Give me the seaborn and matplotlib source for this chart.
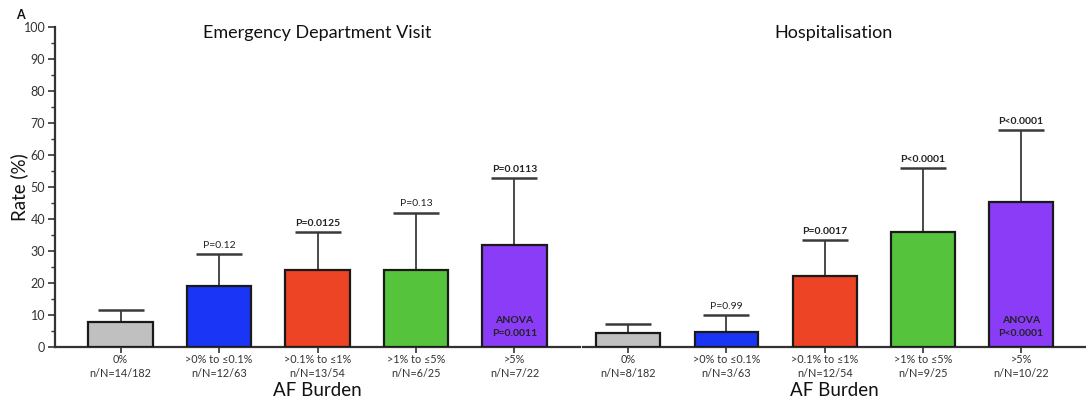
import numpy as np
import pandas as pd
import matplotlib
matplotlib.use("Agg")
import matplotlib.pyplot as plt
from matplotlib.ticker import MultipleLocator
import seaborn as sns

sns.set_theme(style="white")
plt.rcParams["font.family"] = ["Lato", "DejaVu Sans"]

# AF burden groups
groups = ["0%", ">0% to \u22640.1%", ">0.1% to \u22641%", ">1% to \u22645%", ">5%"]
colors = ["#c0c0c0", "#1a35f5", "#ec4424", "#55c43c", "#8a3cf6"]

# Emergency department visits
ed_n = [14, 12, 13, 6, 7]
ed_N = [182, 63, 54, 25, 22]
ed_upper = [11.6, 29.1, 36.0, 42.0, 52.9]
ed_p = ["", "P=0.12", "P=0.0125", "P=0.13", "P=0.0113"]
ed_p_bold = [False, False, True, False, True]
ed_anova = "ANOVA\nP=0.0011"

# Hospitalisation
ho_n = [8, 3, 12, 9, 10]
ho_N = [182, 63, 54, 25, 22]
ho_upper = [7.2, 9.9, 33.5, 56.0, 67.9]
ho_p = ["", "P=0.99", "P=0.0017", "P<0.0001", "P<0.0001"]
ho_p_bold = [False, False, True, True, True]
ho_anova = "ANOVA\nP<0.0001"

fig = plt.figure(figsize=(10.86, 4.03), dpi=100)
ax1 = fig.add_axes([55 / 1086, 1 - 347 / 403, 525 / 1086, 320 / 403])
ax2 = fig.add_axes([583 / 1086, 1 - 347 / 403, 502 / 1086, 320 / 403])


def panel(ax, n, N, upper, plabels, pbold, anova, title, xlim, show_y):
    rate = [100 * a / b for a, b in zip(n, N)]
    df = pd.DataFrame({"group": groups, "rate": rate})
    sns.barplot(data=df, x="group", y="rate", hue="group", palette=colors,
                saturation=1, legend=False, width=0.65, edgecolor="#1a1a1a",
                linewidth=1.6, ax=ax, zorder=3)
    x = np.arange(len(groups))
    err = np.array(upper) - np.array(rate)
    ax.errorbar(x, rate, yerr=[np.zeros_like(err), err], fmt="none",
                ecolor="#3a3a3a", elinewidth=1.3, capsize=16.5, capthick=1.8,
                zorder=2)
    for xi, up, lab, b in zip(x, upper, plabels, pbold):
        if lab:
            ax.text(xi, up + 1.3, lab, ha="center", va="bottom", fontsize=7.5,
                    fontweight="bold" if b else "normal", color="#222222")
    ax.text(x[-1], 6.2, anova, ha="center", va="center", fontsize=7.5,
            fontweight="bold", color="#222222", linespacing=1.6)
    ax.set_ylim(0, 100)
    ax.set_xlim(*xlim)
    ax.set_xticks(x)
    ax.set_xticklabels([f"{g}\nn/N={a}/{b}" for g, a, b in zip(groups, n, N)],
                       fontsize=7.8, color="#333333", linespacing=1.35)
    ax.set_xlabel("AF Burden", fontsize=13.5, color="#111111")
    ax.xaxis.set_label_coords(0.5, -0.108)
    ax.set_title(title, fontsize=13, color="#111111", pad=-8, y=1.0)
    ax.tick_params(axis="x", length=4, width=1.2, color="#333333", pad=1,
                   bottom=True)
    for s in ["top", "right"]:
        ax.spines[s].set_visible(False)
    ax.spines["bottom"].set_linewidth(1.6)
    ax.spines["bottom"].set_color("#333333")
    if show_y:
        ax.spines["left"].set_linewidth(1.6)
        ax.spines["left"].set_color("#333333")
        ax.yaxis.set_major_locator(MultipleLocator(10))
        ax.yaxis.set_minor_locator(MultipleLocator(5))
        ax.tick_params(axis="y", which="major", length=5, width=1.2,
                       color="#333333", labelsize=9, labelcolor="#333333",
                       left=True, pad=2)
        ax.tick_params(axis="y", which="minor", length=3, width=1.0,
                       color="#333333", left=True)
        ax.set_ylabel("Rate (%)", fontsize=13.5, color="#111111")
        ax.yaxis.set_label_coords(-0.052, 0.5)
    else:
        ax.spines["left"].set_visible(False)
        ax.set_yticks([])
        ax.set_ylabel("")


panel(ax1, ed_n, ed_N, ed_upper, ed_p, ed_p_bold, ed_anova,
      "Emergency Department Visit", (-0.665, 4.665), True)
panel(ax2, ho_n, ho_N, ho_upper, ho_p, ho_p_bold, ho_anova,
      "Hospitalisation", (-0.46, 4.65), False)

fig.text(16 / 1086, 1 - 15 / 403, "A", fontsize=9, fontweight="bold",
         color="#111111", ha="left", va="center")

fig.savefig("out.png", dpi=100)
